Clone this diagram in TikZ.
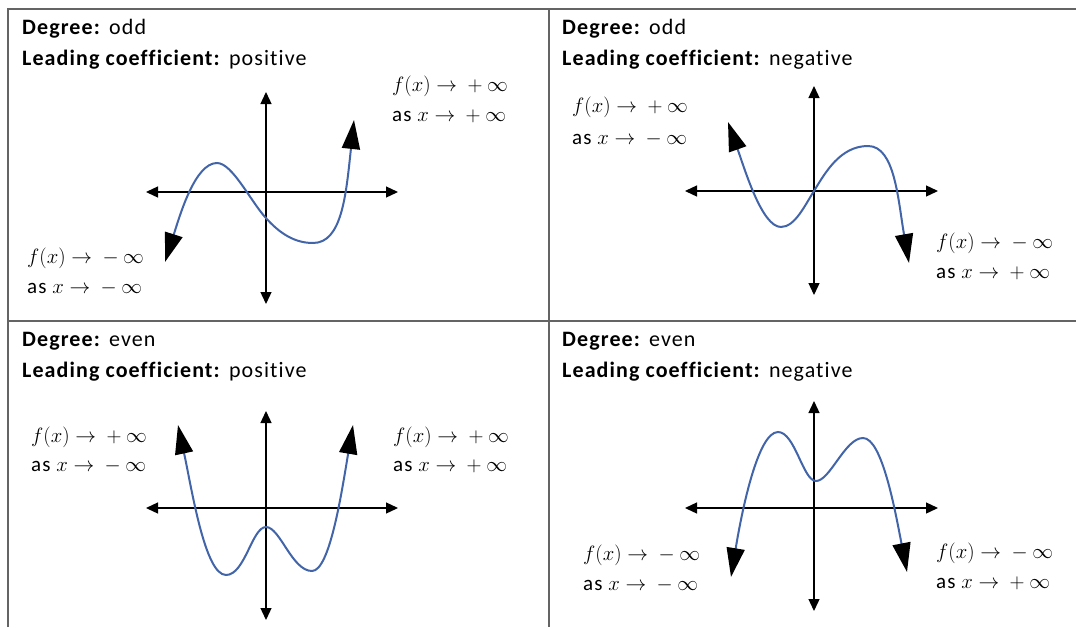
\documentclass[tikz,border=0pt]{standalone}
\usepackage{fontspec}
\setmainfont{Carlito}[LetterSpace=5,RawFeature=-liga]
\usetikzlibrary{arrows.meta}
\definecolor{curveblue}{RGB}{66,100,168}
\definecolor{gridgray}{RGB}{100,100,100}
\tikzset{
  gridline/.style={draw=gridgray, line width=1.4pt},
  axis/.style={draw=black, line width=1.3pt, {Triangle[length=12pt,width=11pt]}-{Triangle[length=12pt,width=11pt]}},
  curve/.style={draw=curveblue, line width=2pt, {Triangle[length=29pt,width=18pt,color=black]}-{Triangle[length=29pt,width=18pt,color=black]}},
  title/.style={anchor=base west, inner sep=0pt, font=\fontsize{22}{26}\selectfont},
  lbl/.style={anchor=base west, inner sep=0pt, font=\fontsize{21}{25}\selectfont},
}
\newcommand{\fto}[1]{$f(x)\rightarrow{}#1{}\infty$}
\newcommand{\asto}[1]{as $x\rightarrow{}#1{}\infty$}
\begin{document}
\begin{tikzpicture}[x=1pt,y=-1pt]
\useasboundingbox (0,0) rectangle (1076,627);
% table
\draw[gridline] (8,627) -- (8,9) -- (1076,9);
\draw[gridline] (8,321) -- (1076,321);
\draw[gridline] (549,9) -- (549,627);

% ---------- top left ----------
\node[title] (tldeg) at (22,34) {\textbf{Degree:} odd};
\node[title] (tllead) at (22,65) {\textbf{Leading coefficient:} positive};
\coordinate (tlL) at (146,192); \coordinate (tlR) at (398,192);
\coordinate (tlT) at (266,92);  \coordinate (tlB) at (266,304);
\draw[axis] (tlL) -- (tlR);
\draw[axis] (tlT) -- (tlB);
\draw[curve] (165,262) .. controls (180,215) and (195,163) .. (217,163)
  .. controls (232,163) and (250,200) .. (265,217)
  .. controls (280,234) and (295,243) .. (313,243)
  .. controls (342,243) and (346,195) .. (354,120);
\node[lbl] (tlr1) at (392,91) {\fto{+}};
\node[lbl] (tlr2) at (392,121) {\asto{+}};
\node[lbl] (tll1) at (27,263) {\fto{-}};
\node[lbl] (tll2) at (27,293) {\asto{-}};

% ---------- top right ----------
\node[title] (trdeg) at (562,34) {\textbf{Degree:} odd};
\node[title] (trlead) at (562,65) {\textbf{Leading coefficient:} negative};
\coordinate (trL) at (685,191); \coordinate (trR) at (938,191);
\coordinate (trT) at (814,86);  \coordinate (trB) at (814,295);
\draw[axis] (trL) -- (trR);
\draw[axis] (trT) -- (trB);
\draw[curve] (728,122) .. controls (745,170) and (762,227) .. (781,227)
  .. controls (795,227) and (805,205) .. (814,191)
  .. controls (825,173) and (840,146) .. (868,146)
  .. controls (895,146) and (898,200) .. (909,263);
\node[lbl] (trl1) at (572,112) {\fto{+}};
\node[lbl] (trl2) at (572,144) {\asto{-}};
\node[lbl] (trr1) at (936,248) {\fto{-}};
\node[lbl] (trr2) at (936,278) {\asto{+}};

% ---------- bottom left ----------
\node[title] (bldeg) at (22,346) {\textbf{Degree:} even};
\node[title] (bllead) at (22,377) {\textbf{Leading coefficient:} positive};
\coordinate (blL) at (146,508); \coordinate (blR) at (398,508);
\coordinate (blT) at (266,411); \coordinate (blB) at (266,620);
\draw[axis] (blL) -- (blR);
\draw[axis] (blT) -- (blB);
\draw[curve] (178,425) .. controls (192,490) and (205,575) .. (226,575)
  .. controls (245,575) and (252,527) .. (266,527)
  .. controls (280,527) and (292,571) .. (312,571)
  .. controls (330,571) and (342,490) .. (353,425);
\node[lbl] (bll1) at (31,442) {\fto{+}};
\node[lbl] (bll2) at (31,471) {\asto{-}};
\node[lbl] (blr1) at (393,442) {\fto{+}};
\node[lbl] (blr2) at (393,471) {\asto{+}};

% ---------- bottom right ----------
\node[title] (brdeg) at (562,346) {\textbf{Degree:} even};
\node[title] (brlead) at (562,377) {\textbf{Leading coefficient:} negative};
\coordinate (brL) at (685,508); \coordinate (brR) at (938,508);
\coordinate (brT) at (814,401); \coordinate (brB) at (814,611);
\draw[axis] (brL) -- (brR);
\draw[axis] (brT) -- (brB);
\draw[curve] (731,577) .. controls (742,510) and (758,432) .. (778,432)
  .. controls (795,432) and (803,481) .. (816,481)
  .. controls (830,481) and (845,438) .. (863,438)
  .. controls (882,438) and (895,510) .. (907,572);
\node[lbl] (brl1) at (583,560) {\fto{-}};
\node[lbl] (brl2) at (583,590) {\asto{-}};
\node[lbl] (brr1) at (936,558) {\fto{-}};
\node[lbl] (brr2) at (936,588) {\asto{+}};
\end{tikzpicture}
\end{document}
